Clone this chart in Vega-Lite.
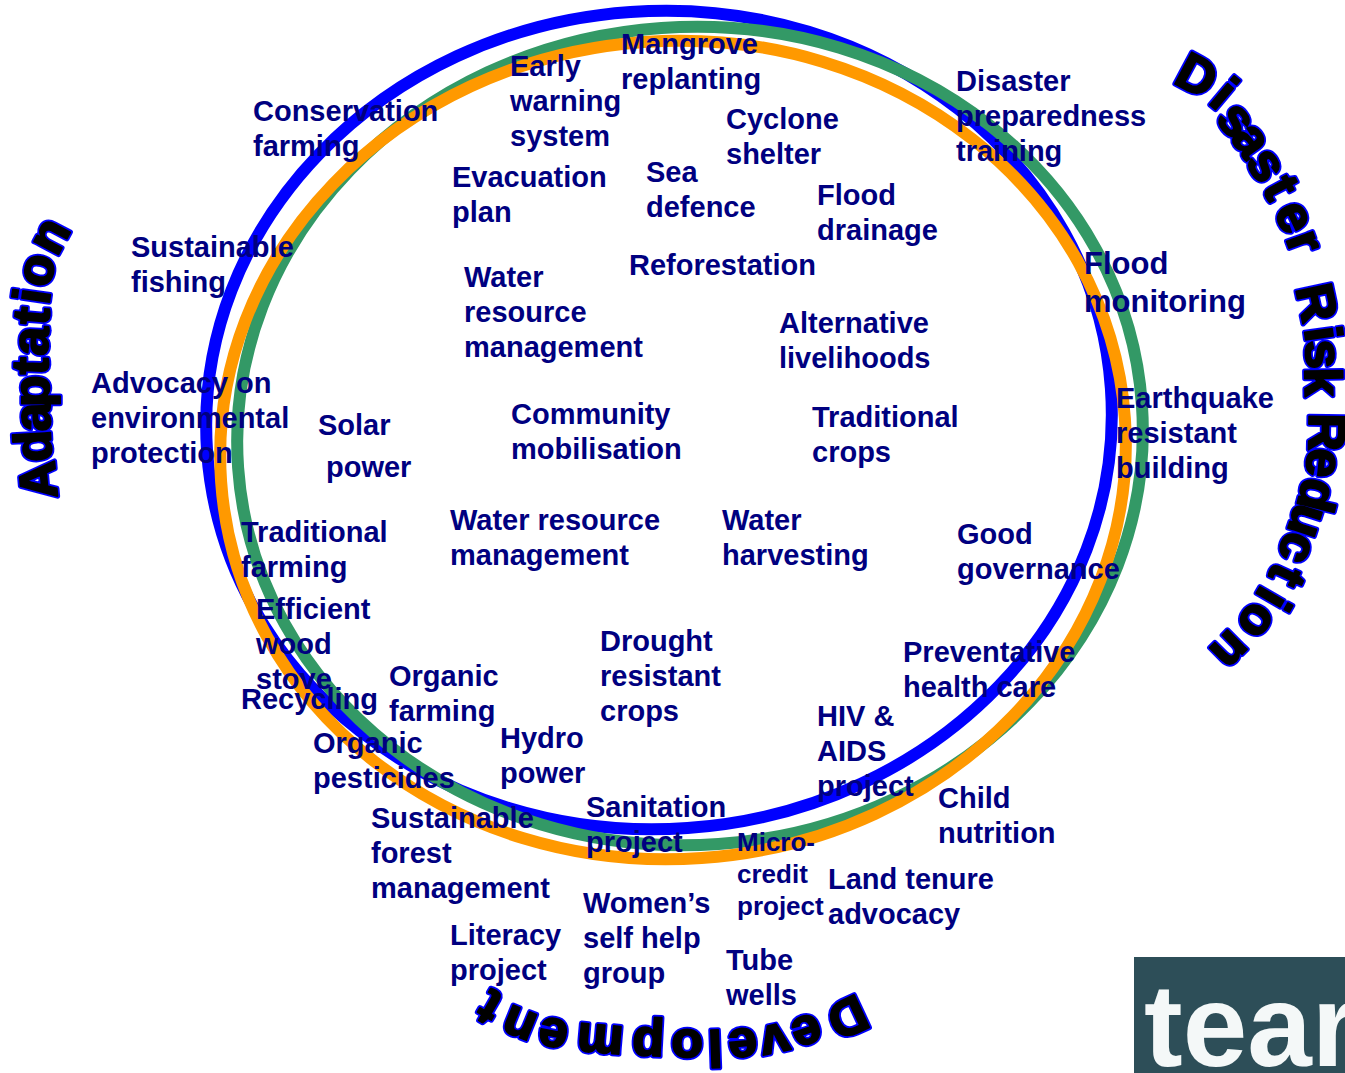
{
  "$schema": "https://vega.github.io/schema/vega-lite/v6.json",
  "width": 1345,
  "height": 1073,
  "padding": 0,
  "autosize": {"type": "none"},
  "background": "white",
  "config": {"view": {"stroke": null}},
  "datasets": {
    "rings": [
      {"ring": "blue", "x": 659, "y": 420},
      {"ring": "green", "x": 690, "y": 436},
      {"ring": "orange", "x": 673, "y": 450}
    ],
    "labels": [
      {"t": "Conservation\nfarming", "x": 253, "y": 121},
      {"t": "Early\nwarning\nsystem", "x": 510, "y": 76},
      {"t": "Mangrove\nreplanting", "x": 621, "y": 54},
      {"t": "Cyclone\nshelter", "x": 726, "y": 129},
      {"t": "Disaster\npreparedness\ntraining", "x": 956, "y": 91},
      {"t": "Evacuation\nplan", "x": 452, "y": 187},
      {"t": "Sea\ndefence", "x": 646, "y": 182},
      {"t": "Flood\ndrainage", "x": 817, "y": 205},
      {"t": "Sustainable\nfishing", "x": 131, "y": 257},
      {"t": "Reforestation", "x": 629, "y": 275},
      {"t": "Water\nresource\nmanagement", "x": 464, "y": 287},
      {"t": "Alternative\nlivelihoods", "x": 779, "y": 333},
      {"t": "Advocacy on\nenvironmental\nprotection", "x": 91, "y": 393},
      {"t": "Solar", "x": 318, "y": 435},
      {"t": "power", "x": 326, "y": 477},
      {"t": "Community\nmobilisation", "x": 511, "y": 424},
      {"t": "Traditional\ncrops", "x": 812, "y": 427},
      {"t": "Earthquake\nresistant\nbuilding", "x": 1116, "y": 408},
      {"t": "Traditional\nfarming", "x": 241, "y": 542},
      {"t": "Water resource\nmanagement", "x": 450, "y": 530},
      {"t": "Water\nharvesting", "x": 722, "y": 530},
      {"t": "Good\ngovernance", "x": 957, "y": 544},
      {"t": "Efficient\nwood\nstove", "x": 256, "y": 619},
      {"t": "Recycling", "x": 241, "y": 709},
      {"t": "Organic\nfarming", "x": 389, "y": 686},
      {"t": "Drought\nresistant\ncrops", "x": 600, "y": 651},
      {"t": "Preventative\nhealth care", "x": 903, "y": 662},
      {"t": "Organic\npesticides", "x": 313, "y": 753},
      {"t": "Hydro\npower", "x": 500, "y": 748},
      {"t": "HIV &\nAIDS\nproject", "x": 817, "y": 726},
      {"t": "Sanitation\nproject", "x": 586, "y": 817},
      {"t": "Child\nnutrition", "x": 938, "y": 808},
      {"t": "Sustainable\nforest\nmanagement", "x": 371, "y": 828},
      {"t": "Land tenure\nadvocacy", "x": 828, "y": 889},
      {"t": "Women’s\nself help\ngroup", "x": 583, "y": 913},
      {"t": "Literacy\nproject", "x": 450, "y": 945},
      {"t": "Tube\nwells", "x": 726, "y": 970}
    ],
    "bigLabels": [
      {"t": "Flood\nmonitoring", "x": 1084, "y": 274}
    ],
    "smallLabels": [
      {"t": "Micro-\ncredit\nproject", "x": 737, "y": 851}
    ],
    "titles": [
      {"ch": "A", "x": 40, "y": 480, "a": -95},
      {"ch": "d", "x": 35, "y": 446, "a": -93},
      {"ch": "a", "x": 34, "y": 417, "a": -91},
      {"ch": "p", "x": 33, "y": 391, "a": -90},
      {"ch": "t", "x": 32, "y": 366, "a": -88},
      {"ch": "a", "x": 32, "y": 341, "a": -87},
      {"ch": "t", "x": 33, "y": 316, "a": -85},
      {"ch": "i", "x": 34, "y": 296, "a": -82},
      {"ch": "o", "x": 37, "y": 270, "a": -76},
      {"ch": "n", "x": 50, "y": 236, "a": -62},
      {"ch": "D", "x": 1196, "y": 77, "a": 28},
      {"ch": "i", "x": 1223, "y": 95, "a": 40},
      {"ch": "s", "x": 1236, "y": 120, "a": 50},
      {"ch": "a", "x": 1251, "y": 140, "a": 55},
      {"ch": "s", "x": 1266, "y": 165, "a": 58},
      {"ch": "t", "x": 1280, "y": 188, "a": 62},
      {"ch": "e", "x": 1294, "y": 217, "a": 65},
      {"ch": "r", "x": 1304, "y": 242, "a": 70},
      {"ch": "R", "x": 1315, "y": 303, "a": 78},
      {"ch": "i", "x": 1321, "y": 334, "a": 82},
      {"ch": "s", "x": 1322, "y": 354, "a": 86},
      {"ch": "k", "x": 1321, "y": 382, "a": 89},
      {"ch": "R", "x": 1325, "y": 432, "a": 91},
      {"ch": "e", "x": 1323, "y": 463, "a": 96},
      {"ch": "d", "x": 1316, "y": 495, "a": 104},
      {"ch": "u", "x": 1307, "y": 521, "a": 108},
      {"ch": "c", "x": 1297, "y": 548, "a": 111},
      {"ch": "t", "x": 1286, "y": 575, "a": 115},
      {"ch": "i", "x": 1272, "y": 598, "a": 120},
      {"ch": "o", "x": 1257, "y": 621, "a": 126},
      {"ch": "n", "x": 1230, "y": 650, "a": 135},
      {"ch": "D", "x": 847, "y": 1016, "a": 155},
      {"ch": "e", "x": 807, "y": 1032, "a": 161},
      {"ch": "v", "x": 775, "y": 1041, "a": 168},
      {"ch": "e", "x": 743, "y": 1045, "a": 175},
      {"ch": "l", "x": 715, "y": 1046, "a": 178},
      {"ch": "o", "x": 687, "y": 1046, "a": 180},
      {"ch": "p", "x": 648, "y": 1044, "a": 183},
      {"ch": "m", "x": 600, "y": 1041, "a": 185},
      {"ch": "e", "x": 553, "y": 1035, "a": 191},
      {"ch": "n", "x": 519, "y": 1025, "a": 202},
      {"ch": "t", "x": 490, "y": 1006, "a": 210}
    ],
    "logoBox": [
      {"x": 1134, "x2": 1345, "y": 957, "y2": 1073}
    ],
    "logoText": [
      {"t": "tear", "x": 1144, "y": 1066}
    ]
  },
  "encoding": {
    "x": {"field": "x", "type": "quantitative", "scale": {"domain": [0, 1345], "nice": false, "zero": false}, "axis": null},
    "y": {"field": "y", "type": "quantitative", "scale": {"domain": [0, 1073], "nice": false, "zero": false, "reverse": true}, "axis": null}
  },
  "layer": [
    {
      "data": {"name": "rings"},
      "mark": {
        "type": "point",
        "shape": "M1,0C1,0.4987 0.5523,0.903 0,0.903C-0.5523,0.903 -1,0.4987 -1,0C-1,-0.4987 -0.5523,-0.903 0,-0.903C0.5523,-0.903 1,-0.4987 1,0Z",
        "size": 820836,
        "filled": false,
        "strokeWidth": 12,
        "opacity": 1,
        "angle": -4
      },
      "encoding": {
        "stroke": {"field": "ring", "type": "nominal", "scale": {"domain": ["blue", "green", "orange"], "range": ["#0000ff", "#339966", "#ff9900"]}, "legend": null}
      }
    },
    {
      "data": {"name": "labels"},
      "mark": {"type": "text", "align": "left", "baseline": "alphabetic", "font": "Liberation Sans", "fontWeight": "bold", "fontSize": 29, "lineHeight": 35, "lineBreak": "\n", "color": "#000080"},
      "encoding": {"text": {"field": "t", "type": "nominal"}}
    },
    {
      "data": {"name": "bigLabels"},
      "mark": {"type": "text", "align": "left", "baseline": "alphabetic", "font": "Liberation Sans", "fontWeight": "bold", "fontSize": 31, "lineHeight": 38, "lineBreak": "\n", "color": "#000080"},
      "encoding": {"text": {"field": "t", "type": "nominal"}}
    },
    {
      "data": {"name": "smallLabels"},
      "mark": {"type": "text", "align": "left", "baseline": "alphabetic", "font": "Liberation Sans", "fontWeight": "bold", "fontSize": 26, "lineHeight": 32, "lineBreak": "\n", "color": "#000080"},
      "encoding": {"text": {"field": "t", "type": "nominal"}}
    },
    {
      "data": {"name": "titles"},
      "mark": {"type": "text", "align": "center", "baseline": "middle", "font": "Liberation Sans", "fontWeight": "bold", "fontSize": 52, "fill": "#000000", "stroke": "#0000ff", "strokeWidth": 5.5, "strokeJoin": "round"},
      "encoding": {
        "text": {"field": "ch", "type": "nominal"},
        "angle": {"field": "a", "type": "quantitative", "scale": null}
      }
    },
    {
      "data": {"name": "titles"},
      "mark": {"type": "text", "align": "center", "baseline": "middle", "font": "Liberation Sans", "fontWeight": "bold", "fontSize": 52, "fill": "#000000", "stroke": "#000000", "strokeWidth": 2, "strokeJoin": "round"},
      "encoding": {
        "text": {"field": "ch", "type": "nominal"},
        "angle": {"field": "a", "type": "quantitative", "scale": null}
      }
    },
    {
      "data": {"name": "logoBox"},
      "mark": {"type": "rect", "color": "#2d4e58"},
      "encoding": {
        "x2": {"field": "x2"},
        "y2": {"field": "y2"}
      }
    },
    {
      "data": {"name": "logoText"},
      "mark": {"type": "text", "align": "left", "baseline": "alphabetic", "font": "Liberation Sans", "fontWeight": "bold", "fontSize": 116, "color": "#f4f8f8"},
      "encoding": {"text": {"field": "t", "type": "nominal"}}
    }
  ]
}
